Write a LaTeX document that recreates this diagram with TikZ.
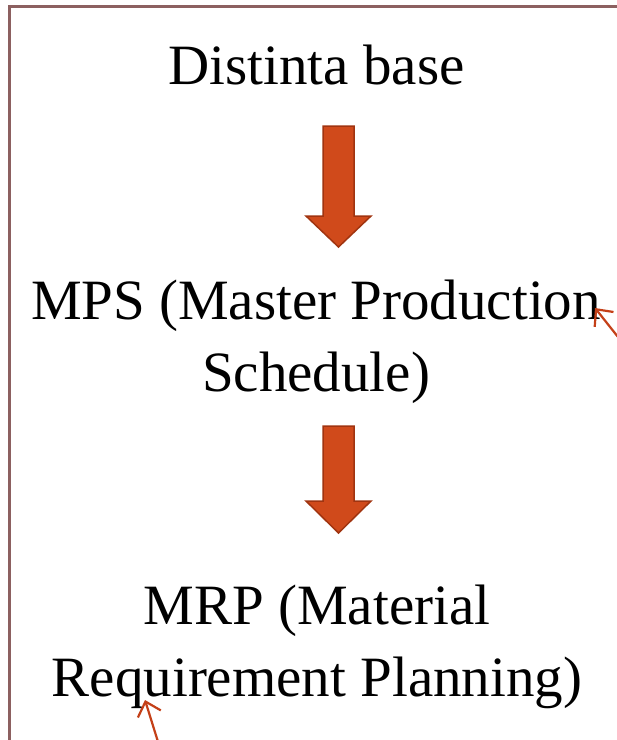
\documentclass[tikz,border=0pt]{standalone}
\usepackage{fontspec}
\setmainfont{Liberation Serif}
\usetikzlibrary{arrows.meta}

\definecolor{framebrown}{RGB}{140,96,96}
\definecolor{arrowfill}{RGB}{208,74,27}
\definecolor{arrowedge}{RGB}{160,52,16}
\definecolor{notered}{RGB}{196,64,24}

\begin{document}
\begin{tikzpicture}[x=1pt,y=-1pt,
    bigtext/.style={font=\fontsize{57}{72}\selectfont,align=center,anchor=base,inner sep=0pt},
    blockarrow/.style={fill=arrowfill,draw=arrowedge,line width=1.5pt,line join=miter},
    frame/.style={draw=framebrown,line width=3pt},
    note/.style={draw=notered,line width=2.2pt,-{Straight Barb[length=13pt,width=24pt]}}]
      \useasboundingbox (0,0) rectangle (617,740);
      \clip (0,0) rectangle (617,740);
      \fill[white] (0,0) rectangle (617,740);
      \draw[frame] (620,6) -- (9,6) -- (9,745);
      % the three steps
      \node[bigtext] (dist) at (316.5,84) {Distinta base};
      \node[bigtext] (mps) at (316,391) {MPS (Master Production\\Schedule)};
      \node[bigtext] (mrp) at (317,696) {MRP (Material\\Requirement Planning)};
      % block arrows between them
      \coordinate (a1) at (338.5,126);
      \coordinate (a2) at (338.5,426);
      \filldraw[blockarrow] (a1) ++(-15.5,0) -- ++(31,0) -- ++(0,90) -- ++(17,0)
            -- ++(-32.5,31) -- ++(-32.5,-31) -- ++(17,0) -- cycle;
      \filldraw[blockarrow] (a2) ++(-15.5,0) -- ++(31,0) -- ++(0,75) -- ++(17,0)
            -- ++(-32.5,32) -- ++(-32.5,-32) -- ++(17,0) -- cycle;
      % small marks
      \coordinate (m1s) at (622,342);
      \coordinate (m1e) at (595,308);
      \coordinate (m2s) at (159,745);
      \coordinate (m2e) at (145,700);
      \draw[note] (m1s) -- (m1e);
      \draw[note] (m2s) -- (m2e);
    \end{tikzpicture}
\end{document}
